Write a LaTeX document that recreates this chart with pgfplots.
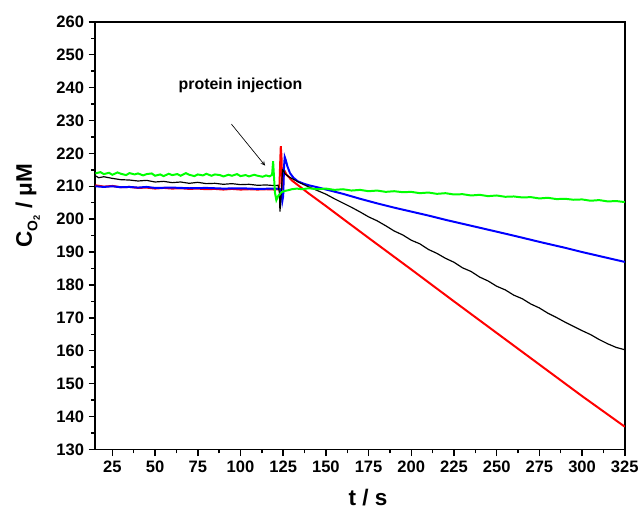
\documentclass[border=0pt]{standalone}
\usepackage{pgfplots}
\pgfplotsset{compat=1.18}
\usepackage{fontspec}
\setmainfont{Liberation Sans}
\begin{document}
\begin{tikzpicture}
\begin{axis}[
  scale only axis,
  width=400pt, height=323pt,
  xmin=15, xmax=325, ymin=130, ymax=260,
  xtick={25,50,...,325}, ytick={130,140,...,260},
  minor x tick num=1, minor y tick num=1,
  tick align=outside, xtick pos=bottom, ytick pos=left,
  major tick length=5pt, minor tick length=3pt,
  axis line style={line width=1.3pt},
  every tick/.style={line width=1.1pt, black},
  /pgf/number format/assume math mode=true,
  ticklabel style={font=\fontsize{12.5}{14}\selectfont\bfseries},
  xlabel={t / s}, ylabel={C\raisebox{-0.45ex}{\fontsize{10.5}{11}\selectfont O\raisebox{-0.35ex}{\fontsize{7}{8}\selectfont 2}} / μM},
  label style={font=\fontsize{17}{19}\selectfont\bfseries},
  xlabel style={at={(axis description cs:0.515,-0.113)}, anchor=center},
  ylabel style={at={(axis description cs:-0.1275,0.57)}, anchor=center},
  clip=true,
]
\addplot[red, line width=1.5pt] coordinates {
(15,210.3)(20,209.9)(25,210.1)(30,209.7)(35,209.8)(40,209.5)(45,209.6)(50,209.3)(55,209.5)(60,209.3)(65,209.4)(70,209.2)(75,209.3)(80,209.1)(85,209.2)(90,209.0)(95,209.2)(100,209.0)(105,209.1)(110,209.0)(115,209.1)(120,209.0)(122,209.1)(122.8,210)(123.3,218)(123.6,222.2)(124.0,219)(124.4,211)(124.8,209)(125.2,214)(126,214.5)(127,213.5)(128,213)(130,211.8)(135,209.8)(140,207.8)(150,204.0)(160,200.1)(175,194.3)(200,184.7)(225,175.0)(250,165.4)(275,155.8)(300,146.2)(325,136.9)
};
\addplot[blue, line width=1.5pt] coordinates {
(15,210.0)(20,209.8)(25,210.0)(30,209.7)(35,209.8)(40,209.6)(45,209.8)(50,209.5)(60,209.6)(70,209.4)(80,209.5)(90,209.3)(100,209.4)(110,209.2)(120,209.3)(123,209.2)(124,208)(124.5,205.5)(125,207)(125.5,216)(125.9,218.9)(126.5,218)(127.5,216)(129,214)(131,212.6)(133.6,211.5)(137,210.8)(140,210.3)(145,209.7)(151,208.9)(160,207.7)(170,206.2)(180,204.8)(190,203.5)(200,202.3)(210,201.1)(220,199.8)(230,198.6)(240,197.4)(250,196.2)(261.5,194.8)(275,193.1)(290,191.3)(300,190.0)(310,188.8)(325,187.0)
};
\addplot[black, line width=0.9pt] coordinates {
(15,213.2)(17,212.6)(20,212.9)(25,212.4)(30,212.0)(35,211.9)(40,211.6)(45,211.8)(50,211.3)(55,211.5)(60,211.1)(65,211.3)(70,210.9)(75,211.2)(80,210.8)(85,210.9)(90,210.6)(95,210.8)(100,210.5)(105,210.6)(110,210.3)(115,210.4)(120,210.2)(122,210.3)(122.8,208)(123.1,202.3)(123.5,205)(124,209)(124.6,215)(125.2,214.8)(126,213.8)(128,213.0)(130,212.4)(135,211.0)(140,209.8)(145,208.7)(150,207.6)(155,206.2)(160,204.9)(165,203.6)(170,202.2)(175,200.7)(180,199.5)(185,198.0)(190,196.4)(195,195.2)(200,193.6)(205,192.5)(210,190.8)(215,189.6)(220,188.1)(225,186.9)(230,185.2)(235,184.1)(240,182.4)(245,181.2)(250,179.6)(255,178.5)(260,176.9)(265,175.8)(270,174.2)(275,173.0)(280,171.4)(285,170.1)(290,168.7)(295,167.4)(300,166.1)(305,164.9)(310,163.4)(315,162.1)(320,161.0)(325,160.3)
};
\addplot[green, line width=1.5pt] coordinates {
(15,213.9)(18,214.3)(20,213.7)(23,214.1)(25,213.5)(28,214.2)(30,213.8)(33,213.4)(35,214.0)(38,213.6)(40,213.9)(43,213.3)(45,213.7)(48,213.9)(50,213.2)(53,213.6)(55,213.1)(58,213.8)(60,213.4)(63,213.7)(65,213.2)(68,214.0)(70,213.5)(73,213.1)(75,213.6)(78,213.3)(80,213.8)(83,213.2)(85,213.6)(88,213.4)(90,213.0)(93,213.5)(95,213.2)(98,213.7)(100,213.1)(103,213.4)(105,213.0)(108,213.5)(110,213.2)(113,212.9)(115,213.3)(117,213.0)(118.5,213.5)(119.1,217.6)(119.6,213)(120.2,208)(121,205.8)(122,207)(124,208.2)(126,208.6)(128,208.8)(130,209.1)(133,209.3)(136,209.1)(140,209.4)(145,209.1)(150,209.3)(155,208.9)(160,209.1)(165,208.7)(170,208.9)(175,208.5)(180,208.7)(185,208.3)(190,208.5)(195,208.2)(200,208.3)(205,207.9)(210,208.1)(215,207.7)(220,207.9)(225,207.5)(230,207.6)(235,207.2)(240,207.4)(245,207.0)(250,207.2)(255,206.8)(260,206.9)(265,206.6)(270,206.7)(275,206.3)(280,206.5)(285,206.1)(290,206.2)(295,205.9)(300,206.0)(305,205.6)(310,205.8)(315,205.4)(320,205.5)(325,205.2)
};
\node[font=\fontsize{12}{14}\selectfont\bfseries] at (axis cs:100,240.7) {protein injection};
\draw[-stealth, line width=0.5pt] (axis cs:94.7,228.9) -- (axis cs:114.4,216.3);
\end{axis}
\path ([yshift=16.5pt]current axis.north west) -- ([xshift=-72pt,yshift=-47pt]current axis.south west);
\end{tikzpicture}
\end{document}
